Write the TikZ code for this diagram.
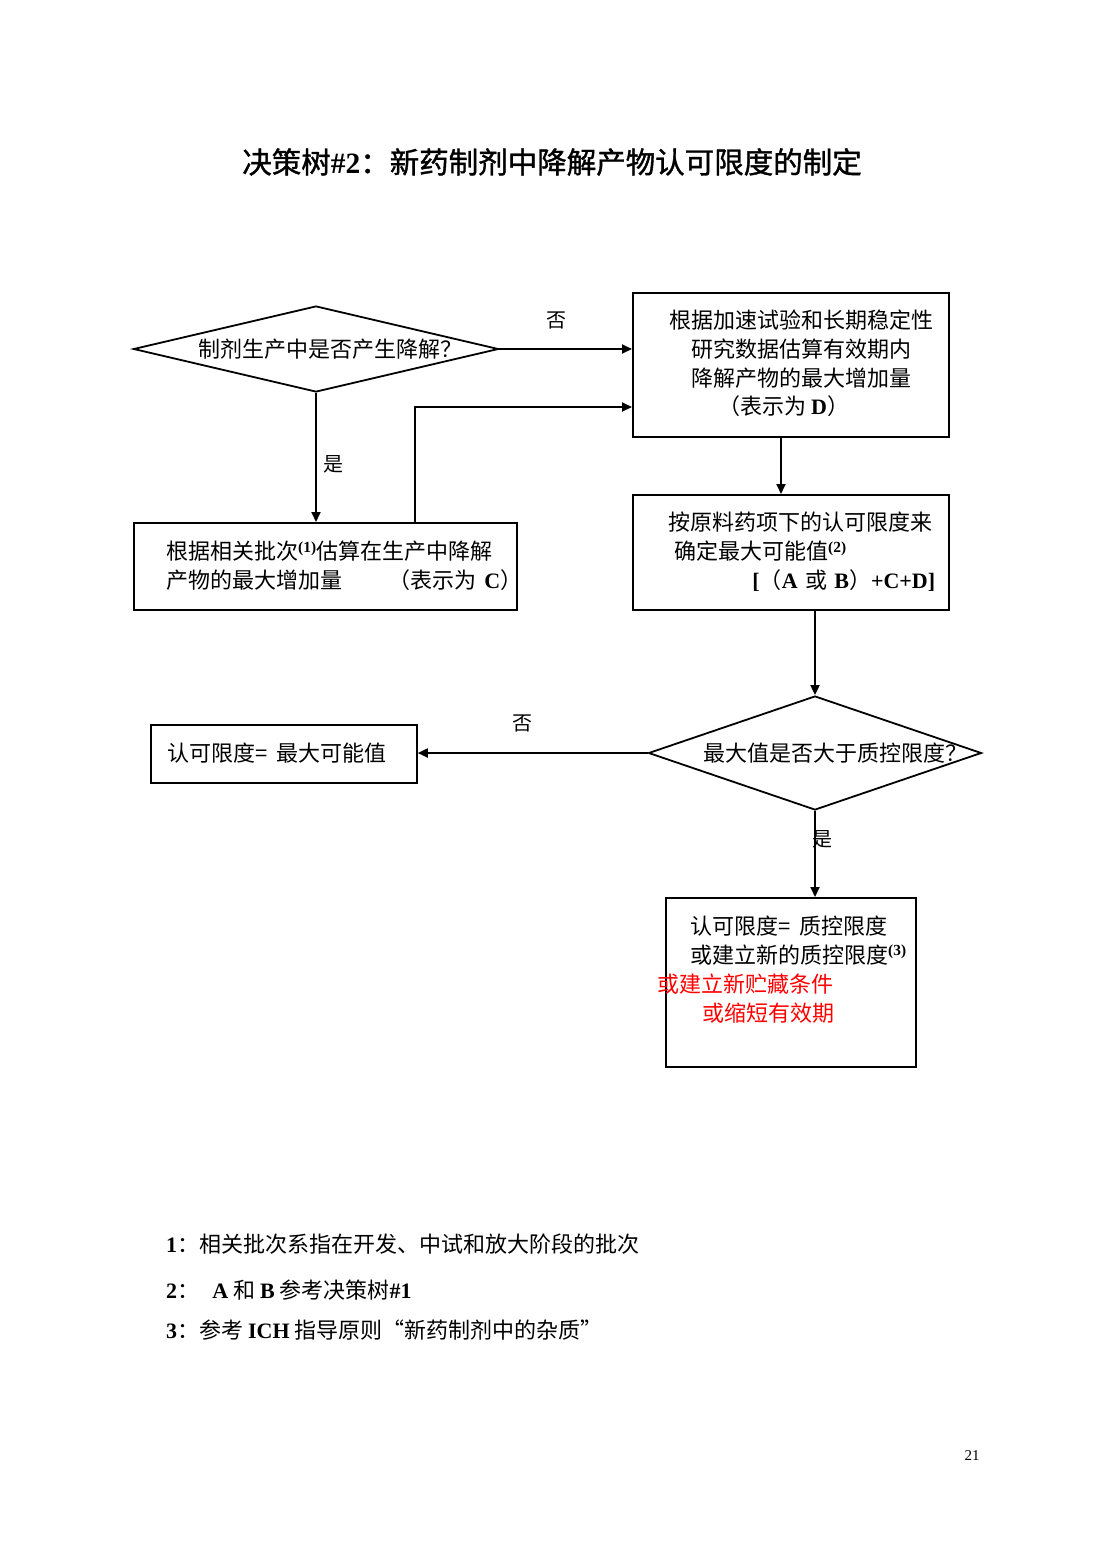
\documentclass[tikz,border=0pt]{standalone}
\usepackage{fontspec}
\setmainfont{Noto Sans CJK SC}
\newfontfamily\cjkbold[FakeBold=1.2]{Noto Sans CJK SC}
\newfontfamily\tnr{Liberation Serif}
\usetikzlibrary{shapes.geometric,arrows.meta}
\newcommand\tb[1]{{\tnr\bfseries #1}}
\newcommand\sups[1]{\textsuperscript{{\tnr\bfseries (#1)}}}
\begin{document}
\begin{tikzpicture}[x=1pt,y=-1pt,
  box/.style={draw,line width=1.8pt,rectangle,inner sep=0pt,anchor=north west},
  dia/.style={draw,line width=1.8pt,diamond,inner sep=0pt},
  conn/.style={line width=1.8pt,-{Triangle[length=10pt,width=9pt]}},
  txt/.style={font=\fontsize{22}{29}\selectfont,inner sep=0pt},
  lbl/.style={font=\fontsize{20}{24}\selectfont,inner sep=0pt}]
\fill[white] (0,0) rectangle (1100,1556);
\useasboundingbox (0,0) rectangle (1100,1556);

% title
\node[inner sep=0pt,font=\cjkbold\fontsize{29.5}{33}\selectfont] (title) at (552,162) {决策树\tb{\#2}：新药制剂中降解产物认可限度的制定};

% shapes
\node[dia,minimum width=365pt,minimum height=86pt] (d1) at (316,349) {};
\node[box,minimum width=316pt,minimum height=144pt] (bD) at (632,292) {};
\node[box,minimum width=383pt,minimum height=87pt] (bC) at (133,522) {};
\node[box,minimum width=316pt,minimum height=115pt] (bE) at (632,494) {};
\node[dia,minimum width=333pt,minimum height=114pt] (d2) at (815,753) {};
\node[box,minimum width=266pt,minimum height=58pt] (bF) at (150,724) {};
\node[box,minimum width=250pt,minimum height=169pt] (bG) at (665,897) {};

% texts
\node[txt] (t1) at (330,349) {制剂生产中是否产生降解？};
\node[txt,align=center] (tD) at (801,349) {根据加速试验和长期稳定性\\研究数据估算有效期内\\降解产物的最大增加量};
\node[txt,anchor=west] (tD4) at (718,406) {（表示为 \tb{D}）};
\node[txt,align=left,text width=356pt,anchor=west] (tC) at (166,566) {根据相关批次\sups{1}估算在生产中降解\\产物的最大增加量\hfill（表示为 \tb{C}）};
\node[txt,align=left,text width=267pt,anchor=west] (tE) at (668,552) {按原料药项下的认可限度来\\\hspace*{6pt}确定最大可能值\sups{2}\\\hfill\tb{[}（\tb{A} 或 \tb{B}）\tb{+C+D]}};
\node[txt] (t2) at (835,753) {最大值是否大于质控限度？};
\node[txt,anchor=west] (tF) at (167,753) {认可限度=\hspace{9pt}最大可能值};
\node[txt,anchor=west] (g1) at (690,926) {认可限度=\hspace{9pt}质控限度};
\node[txt,anchor=west] (g2) at (690,955) {或建立新的质控限度\sups{3}};
\node[txt,anchor=west,text=red] (g3) at (657,984) {或建立新贮藏条件};
\node[txt,anchor=west,text=red] (g4) at (702,1013) {或缩短有效期};

% labels
\node[lbl] (n1) at (556,320) {否};
\node[lbl] (y1) at (333,464) {是};
\node[lbl] (n2) at (522,723) {否};
\node[lbl] (y2) at (822,839) {是};

% connectors
\coordinate (cup) at (415,522);
\coordinate (tDin) at (632,407);
\coordinate (dS) at (781,436);
\coordinate (eS) at (815,609);
\draw[conn] (d1.east) -- (d1.east -| bD.west);
\draw[conn] (d1.south) -- (d1.south |- bC.north);
\draw[conn] (cup) |- (tDin);
\draw[conn] (dS) -- (dS |- bE.north);
\draw[conn] (eS) -- (d2.north);
\draw[conn] (d2.west) -- (d2.west -| bF.east);
\draw[conn] (d2.south) -- (d2.south |- bG.north);

% footnotes
\node[txt,anchor=west] (f1) at (166,1244) {\tb{1}：相关批次系指在开发、中试和放大阶段的批次};
\node[txt,anchor=west] (f2) at (166,1290) {\tb{2}：\hspace{0.6em}\tb{A} 和 \tb{B} 参考决策树\tb{\#1}};
\node[txt,anchor=west] (f3) at (166,1330) {\tb{3}：参考 \tb{ICH} 指导原则“新药制剂中的杂质”};

% page number
\node[inner sep=0pt,font=\tnr\fontsize{15}{17}\selectfont] (pg) at (972,1456) {21};
\end{tikzpicture}
\end{document}
